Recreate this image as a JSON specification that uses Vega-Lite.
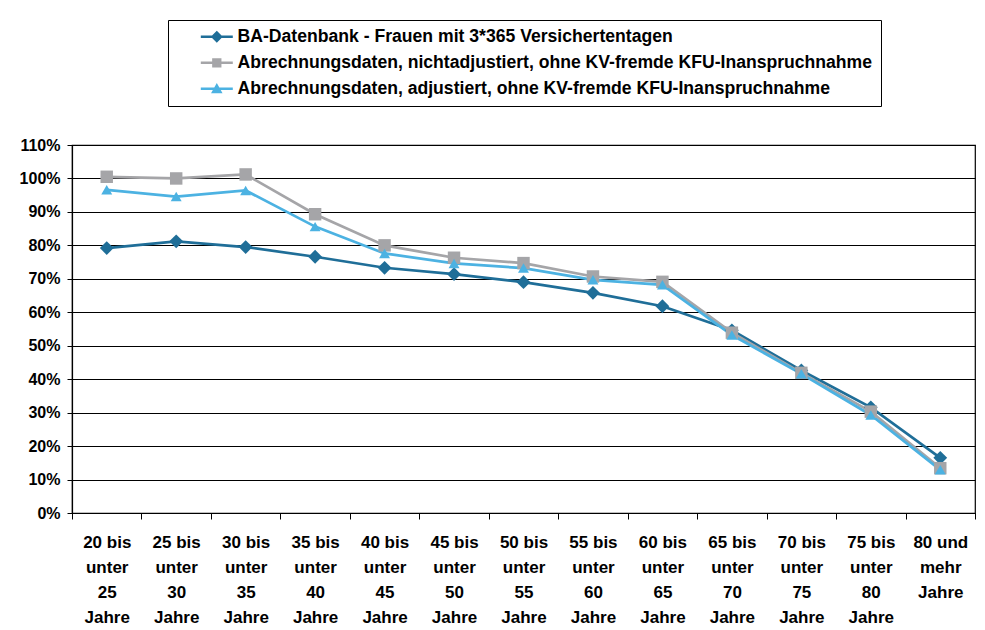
{
  "$schema": "https://vega.github.io/schema/vega-lite/v6.json",
  "width": 903,
  "height": 368,
  "autosize": {"type": "none"},
  "padding": {"left": 72, "top": 145, "right": 10, "bottom": 117},
  "background": "white",
  "config": {
    "font": "Liberation Sans",
    "view": {"stroke": "black", "strokeWidth": 1.2},
    "axis": {"labelFont": "Liberation Sans", "labelFontWeight": "bold", "labelColor": "black", "domainColor": "black", "tickColor": "black", "gridColor": "black", "title": null}
  },
  "data": {
    "values": [
      {"age": "20 bis unter 25 Jahre", "series": "BA-Datenbank - Frauen mit 3*365 Versichertentagen", "value": 0.792},
      {"age": "25 bis unter 30 Jahre", "series": "BA-Datenbank - Frauen mit 3*365 Versichertentagen", "value": 0.812},
      {"age": "30 bis unter 35 Jahre", "series": "BA-Datenbank - Frauen mit 3*365 Versichertentagen", "value": 0.795},
      {"age": "35 bis unter 40 Jahre", "series": "BA-Datenbank - Frauen mit 3*365 Versichertentagen", "value": 0.766},
      {"age": "40 bis unter 45 Jahre", "series": "BA-Datenbank - Frauen mit 3*365 Versichertentagen", "value": 0.733},
      {"age": "45 bis unter 50 Jahre", "series": "BA-Datenbank - Frauen mit 3*365 Versichertentagen", "value": 0.714},
      {"age": "50 bis unter 55 Jahre", "series": "BA-Datenbank - Frauen mit 3*365 Versichertentagen", "value": 0.690},
      {"age": "55 bis unter 60 Jahre", "series": "BA-Datenbank - Frauen mit 3*365 Versichertentagen", "value": 0.658},
      {"age": "60 bis unter 65 Jahre", "series": "BA-Datenbank - Frauen mit 3*365 Versichertentagen", "value": 0.618},
      {"age": "65 bis unter 70 Jahre", "series": "BA-Datenbank - Frauen mit 3*365 Versichertentagen", "value": 0.546},
      {"age": "70 bis unter 75 Jahre", "series": "BA-Datenbank - Frauen mit 3*365 Versichertentagen", "value": 0.426},
      {"age": "75 bis unter 80 Jahre", "series": "BA-Datenbank - Frauen mit 3*365 Versichertentagen", "value": 0.316},
      {"age": "80 und mehr Jahre", "series": "BA-Datenbank - Frauen mit 3*365 Versichertentagen", "value": 0.165},
      {"age": "20 bis unter 25 Jahre", "series": "Abrechnungsdaten, nichtadjustiert, ohne KV-fremde KFU-Inanspruchnahme", "value": 1.005},
      {"age": "25 bis unter 30 Jahre", "series": "Abrechnungsdaten, nichtadjustiert, ohne KV-fremde KFU-Inanspruchnahme", "value": 1.000},
      {"age": "30 bis unter 35 Jahre", "series": "Abrechnungsdaten, nichtadjustiert, ohne KV-fremde KFU-Inanspruchnahme", "value": 1.012},
      {"age": "35 bis unter 40 Jahre", "series": "Abrechnungsdaten, nichtadjustiert, ohne KV-fremde KFU-Inanspruchnahme", "value": 0.893},
      {"age": "40 bis unter 45 Jahre", "series": "Abrechnungsdaten, nichtadjustiert, ohne KV-fremde KFU-Inanspruchnahme", "value": 0.800},
      {"age": "45 bis unter 50 Jahre", "series": "Abrechnungsdaten, nichtadjustiert, ohne KV-fremde KFU-Inanspruchnahme", "value": 0.763},
      {"age": "50 bis unter 55 Jahre", "series": "Abrechnungsdaten, nichtadjustiert, ohne KV-fremde KFU-Inanspruchnahme", "value": 0.747},
      {"age": "55 bis unter 60 Jahre", "series": "Abrechnungsdaten, nichtadjustiert, ohne KV-fremde KFU-Inanspruchnahme", "value": 0.707},
      {"age": "60 bis unter 65 Jahre", "series": "Abrechnungsdaten, nichtadjustiert, ohne KV-fremde KFU-Inanspruchnahme", "value": 0.691},
      {"age": "65 bis unter 70 Jahre", "series": "Abrechnungsdaten, nichtadjustiert, ohne KV-fremde KFU-Inanspruchnahme", "value": 0.539},
      {"age": "70 bis unter 75 Jahre", "series": "Abrechnungsdaten, nichtadjustiert, ohne KV-fremde KFU-Inanspruchnahme", "value": 0.419},
      {"age": "75 bis unter 80 Jahre", "series": "Abrechnungsdaten, nichtadjustiert, ohne KV-fremde KFU-Inanspruchnahme", "value": 0.303},
      {"age": "80 und mehr Jahre", "series": "Abrechnungsdaten, nichtadjustiert, ohne KV-fremde KFU-Inanspruchnahme", "value": 0.134},
      {"age": "20 bis unter 25 Jahre", "series": "Abrechnungsdaten, adjustiert, ohne KV-fremde KFU-Inanspruchnahme", "value": 0.966},
      {"age": "25 bis unter 30 Jahre", "series": "Abrechnungsdaten, adjustiert, ohne KV-fremde KFU-Inanspruchnahme", "value": 0.946},
      {"age": "30 bis unter 35 Jahre", "series": "Abrechnungsdaten, adjustiert, ohne KV-fremde KFU-Inanspruchnahme", "value": 0.964},
      {"age": "35 bis unter 40 Jahre", "series": "Abrechnungsdaten, adjustiert, ohne KV-fremde KFU-Inanspruchnahme", "value": 0.856},
      {"age": "40 bis unter 45 Jahre", "series": "Abrechnungsdaten, adjustiert, ohne KV-fremde KFU-Inanspruchnahme", "value": 0.776},
      {"age": "45 bis unter 50 Jahre", "series": "Abrechnungsdaten, adjustiert, ohne KV-fremde KFU-Inanspruchnahme", "value": 0.746},
      {"age": "50 bis unter 55 Jahre", "series": "Abrechnungsdaten, adjustiert, ohne KV-fremde KFU-Inanspruchnahme", "value": 0.732},
      {"age": "55 bis unter 60 Jahre", "series": "Abrechnungsdaten, adjustiert, ohne KV-fremde KFU-Inanspruchnahme", "value": 0.697},
      {"age": "60 bis unter 65 Jahre", "series": "Abrechnungsdaten, adjustiert, ohne KV-fremde KFU-Inanspruchnahme", "value": 0.682},
      {"age": "65 bis unter 70 Jahre", "series": "Abrechnungsdaten, adjustiert, ohne KV-fremde KFU-Inanspruchnahme", "value": 0.532},
      {"age": "70 bis unter 75 Jahre", "series": "Abrechnungsdaten, adjustiert, ohne KV-fremde KFU-Inanspruchnahme", "value": 0.416},
      {"age": "75 bis unter 80 Jahre", "series": "Abrechnungsdaten, adjustiert, ohne KV-fremde KFU-Inanspruchnahme", "value": 0.293},
      {"age": "80 und mehr Jahre", "series": "Abrechnungsdaten, adjustiert, ohne KV-fremde KFU-Inanspruchnahme", "value": 0.129}
    ]
  },
  "encoding": {
    "x": {
      "field": "age", "type": "nominal", "sort": null,
      "scale": {"type": "band", "paddingInner": 0, "paddingOuter": 0},
      "axis": {
        "labelAngle": 0, "tickBand": "extent", "tickSize": 6, "domainWidth": 1.2,
        "labelFontSize": 17, "labelLineHeight": 25, "labelPadding": 15, "labelBaseline": "top",
        "labelExpr": "split(replace(replace(replace(datum.label, ' unter ', '|unter|'), ' mehr', '|mehr'), ' Jahre', '|Jahre'), '|')"
      }
    },
    "y": {
      "field": "value", "type": "quantitative",
      "scale": {"domain": [0, 1.1], "nice": false},
      "axis": {"values": [0, 0.1, 0.2, 0.3, 0.4, 0.5, 0.6, 0.7, 0.8, 0.9, 1.0, 1.1], "format": ".0%", "gridOpacity": 1, "gridWidth": 1.2, "tickSize": 5, "labelFontSize": 16, "labelPadding": 7, "domainWidth": 1.2}
    }
  },
  "resolve": {"scale": {"shape": "independent", "color": "independent"}},
  "layer": [
    {
      "mark": {"type": "line", "strokeWidth": 2.7},
      "encoding": {
        "color": {
          "field": "series", "type": "nominal", "sort": null,
          "scale": {
            "domain": ["BA-Datenbank - Frauen mit 3*365 Versichertentagen", "Abrechnungsdaten, nichtadjustiert, ohne KV-fremde KFU-Inanspruchnahme", "Abrechnungsdaten, adjustiert, ohne KV-fremde KFU-Inanspruchnahme"],
            "range": ["#1f6e98", "#a5a5a8", "#4cb2e2"]
          },
          "legend": null
        }
      }
    },
    {
      "mark": {"type": "point", "filled": true, "opacity": 1},
      "encoding": {
        "color": {
          "field": "series", "type": "nominal", "sort": null,
          "scale": {
            "domain": ["BA-Datenbank - Frauen mit 3*365 Versichertentagen", "Abrechnungsdaten, nichtadjustiert, ohne KV-fremde KFU-Inanspruchnahme", "Abrechnungsdaten, adjustiert, ohne KV-fremde KFU-Inanspruchnahme"],
            "range": ["#1f6e98", "#a5a5a8", "#4cb2e2"]
          },
          "legend": null
        },
        "shape": {
          "field": "series", "type": "nominal", "sort": null,
          "scale": {
            "domain": ["BA-Datenbank - Frauen mit 3*365 Versichertentagen", "Abrechnungsdaten, nichtadjustiert, ohne KV-fremde KFU-Inanspruchnahme", "Abrechnungsdaten, adjustiert, ohne KV-fremde KFU-Inanspruchnahme"],
            "range": ["diamond", "square", "triangle-up"]
          },
          "legend": null
        },
        "size": {
          "field": "series", "type": "nominal", "sort": null,
          "scale": {
            "domain": ["BA-Datenbank - Frauen mit 3*365 Versichertentagen", "Abrechnungsdaten, nichtadjustiert, ohne KV-fremde KFU-Inanspruchnahme", "Abrechnungsdaten, adjustiert, ohne KV-fremde KFU-Inanspruchnahme"],
            "range": [190, 120, 140]
          },
          "legend": null
        }
      }
    },
    {
      "transform": [{"filter": "false"}],
      "mark": {"type": "point", "filled": true, "opacity": 1, "size": 256},
      "encoding": {
        "color": {
          "field": "series", "type": "nominal", "sort": null,
          "scale": {
            "domain": ["BA-Datenbank - Frauen mit 3*365 Versichertentagen", "Abrechnungsdaten, nichtadjustiert, ohne KV-fremde KFU-Inanspruchnahme", "Abrechnungsdaten, adjustiert, ohne KV-fremde KFU-Inanspruchnahme"],
            "range": ["#1f6e98", "#a5a5a8", "#4cb2e2"]
          },
          "legend": {
            "orient": "none", "legendX": 96, "legendY": -125, "title": null,
            "direction": "vertical",
            "strokeColor": "black", "fillColor": "white", "padding": 8,
            "labelFont": "Liberation Sans", "labelFontWeight": "bold", "labelFontSize": 17.6, "labelColor": "black", "labelLimit": 900,
            "symbolSize": 256, "symbolOffset": 32, "labelOffset": 12, "rowPadding": 7,
            "symbolOpacity": 1, "symbolStrokeWidth": 0
          }
        },
        "shape": {
          "field": "series", "type": "nominal", "sort": null,
          "scale": {
            "domain": ["BA-Datenbank - Frauen mit 3*365 Versichertentagen", "Abrechnungsdaten, nichtadjustiert, ohne KV-fremde KFU-Inanspruchnahme", "Abrechnungsdaten, adjustiert, ohne KV-fremde KFU-Inanspruchnahme"],
            "range": [
              "M-2,-0.15H2V0.15H-2ZM0,-0.75L0.75,0L0,0.75L-0.75,0Z",
              "M-2,-0.15H2V0.15H-2ZM-0.58,-0.58H0.58V0.58H-0.58Z",
              "M-2,-0.15H2V0.15H-2ZM0,-0.72L0.72,0.55L-0.72,0.55Z"
            ]
          },
          "legend": {
            "orient": "none", "legendX": 96, "legendY": -125, "title": null,
            "direction": "vertical",
            "strokeColor": "black", "fillColor": "white", "padding": 8,
            "labelFont": "Liberation Sans", "labelFontWeight": "bold", "labelFontSize": 17.6, "labelColor": "black", "labelLimit": 900,
            "symbolSize": 256, "symbolOffset": 32, "labelOffset": 12, "rowPadding": 7,
            "symbolOpacity": 1, "symbolStrokeWidth": 0
          }
        }
      }
    }
  ]
}
